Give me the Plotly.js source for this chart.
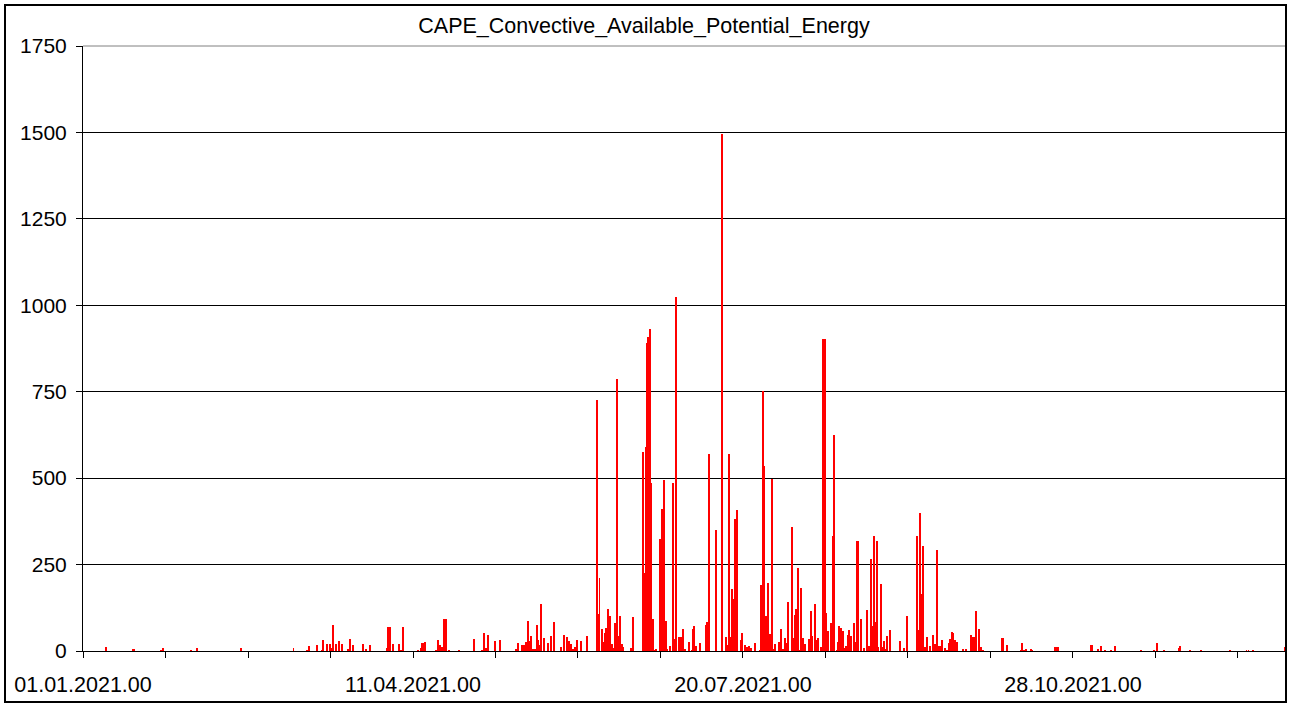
<!DOCTYPE html>
<html>
<head>
<meta charset="utf-8">
<script src="https://cdn.plot.ly/plotly-3.0.1.min.js"></script>
<style>
  html, body { margin: 0; padding: 0; background: #ffffff; }
  #chart { width: 1291px; height: 707px; }
</style>
</head>
<body>
<div id="chart"></div>
<script>
// Day offsets since 01.01.2021 00:00 (fractional days) and CAPE values (J/kg)
const dayOffset = [
  7.06, 15.0, 15.4, 23.64, 24.24, 32.73, 34.55, 47.88, 63.79,
  67.79, 68.58, 70.82, 72.33, 72.82, 73.85, 74.85, 75.36, 75.67, 76.58, 77.67, 78.39,
  80.21, 80.82, 81.73, 84.76, 85.67, 86.97, 92.03, 92.52, 92.97, 93.85, 95.67, 96.27, 96.88,
  101.61, 102.33, 102.82, 103.33, 103.73, 106.88, 107.67, 108.18, 108.70, 109.39, 109.91, 111.0,
  113.85, 118.58, 120.82, 121.61, 122.12, 122.64, 124.85, 126.27,
  131.12, 131.73, 133.03, 133.64, 134.24, 134.76, 135.24, 135.76, 136.27, 137.06, 137.48, 137.97,
  138.39, 138.79, 139.70, 140.91, 141.73, 142.64, 144.85, 145.67, 146.58, 147.36, 147.88, 148.48,
  149.09, 149.70, 150.91, 152.64,
  155.67, 156.15, 156.52, 157.18, 157.67, 158.09, 158.58, 159.09, 159.70, 160.21, 160.70, 161.21,
  161.73, 162.21, 162.73, 163.24, 163.73, 166.06, 166.58,
  169.61, 170.0, 170.52, 171.0, 171.30, 171.73, 172.12, 172.64, 173.03, 173.64,
  174.76, 175.15, 175.55, 176.06, 176.58, 176.97, 177.88, 178.79, 179.18, 179.70,
  180.61, 181.21, 181.73, 182.52, 183.64, 184.45, 184.85, 185.24, 185.76, 186.97,
  188.79, 189.18, 189.70, 191.82, 193.64, 194.85, 195.24, 195.76, 196.15, 196.67, 197.06, 197.58, 198.09,
  199.39, 199.70, 200.52, 201.12, 201.73, 202.33, 203.64,
  205.15, 205.55, 205.97, 206.52, 207.03, 207.67, 208.18, 208.73, 209.18, 209.70,
  210.91, 211.42, 212.03, 212.73, 213.03, 213.55, 214.76, 215.15, 215.76, 216.15, 216.58,
  217.06, 217.58, 218.18, 218.79, 219.91, 220.52, 221.0, 221.73, 222.21, 222.73, 223.64,
  224.33, 224.85, 225.24, 225.76, 226.67, 227.18, 227.58, 228.39, 228.79, 229.18, 229.61,
  230.21, 230.82, 231.21, 231.82, 232.21, 232.73, 233.64, 234.03, 234.39, 234.85, 235.76,
  236.67, 237.58, 238.09, 238.79, 239.18, 239.70, 240.09, 240.61, 241.0, 241.82, 242.21,
  242.73, 243.12, 243.64, 244.55, 247.58, 248.79, 249.61,
  252.64, 253.12, 253.55, 254.03, 254.45, 255.06, 255.76, 256.58, 257.48, 258.09, 258.70,
  259.18, 259.70, 260.21, 261.12, 261.73, 262.33, 262.82, 263.33, 263.73, 264.24, 264.76,
  266.58, 267.48, 269.0, 269.48, 270.0, 270.52, 271.42, 272.03, 272.64,
  278.48, 278.94, 279.91, 284.15, 284.55, 285.15, 285.67, 287.18, 287.58,
  294.55, 295.0, 295.55, 305.30, 305.76, 307.48, 308.39, 309.61, 311.42, 312.64,
  320.52, 324.45, 325.36, 327.48, 332.03, 332.52, 335.45, 338.70, 347.48,
  352.58, 353.18, 354.45, 364.3
];
const capeValues = [
  12, 6, 6, 3, 9, 3, 9, 9, 9,
  3, 14, 17, 3, 32, 20, 20, 9, 75, 20, 29, 20,
  6, 35, 17, 20, 6, 17, 9, 69, 69, 20, 20, 3, 69,
  3, 9, 23, 23, 26, 3, 32, 17, 12, 93, 93, 3,
  3, 35, 3, 52, 9, 46, 29, 32,
  6, 23, 17, 17, 26, 87, 29, 43, 6, 6, 75, 32,
  17, 136, 38, 23, 43, 84, 12, 46, 40, 29, 20, 6,
  12, 32, 29, 43,
  726, 108, 211, 64, 26, 52, 66, 121, 101, 20, 9, 81,
  787, 43, 101, 20, 12, 9, 98,
  576, 227, 591, 890, 909, 931, 487, 92, 3, 6,
  325, 235, 412, 495, 88, 6, 15, 487, 36, 1024,
  41, 41, 65, 6, 27, 3, 65, 73, 15, 24,
  76, 85, 570, 351, 1495, 41, 18, 570, 41, 178, 150, 383, 408,
  33, 53, 18, 12, 15, 9, 23,
  3, 192, 752, 535, 101, 197, 50, 498, 5, 20,
  26, 64, 5, 38, 23, 142, 359, 38, 104, 122, 240,
  3, 182, 38, 20, 35, 116, 43, 136, 32, 38, 12,
  902, 902, 110, 58, 81, 333, 625, 3, 26, 72, 67,
  58, 9, 14, 46, 61, 43, 81, 26, 318, 318, 93,
  9, 119, 14, 266, 72, 333, 84, 318, 12, 194, 12,
  29, 6, 43, 61, 29, 9, 101,
  333, 61, 399, 165, 304, 12, 40, 14, 46, 20, 292,
  14, 14, 32, 9, 3, 23, 35, 55, 52, 32, 26,
  6, 6, 46, 40, 40, 116, 64, 12, 3,
  38, 38, 17, 3, 23, 3, 6, 6, 3,
  12, 12, 12, 17, 17, 6, 14, 3, 3, 14,
  3, 3, 23, 3, 9, 14, 3, 3, 3,
  3, 3, 3, 12
];
const tickDays = [0, 25, 50, 75, 100, 125, 150, 175, 200, 225, 250, 275, 300, 325, 350];
const tickLabels = ['01.01.2021.00', '', '', '', '11.04.2021.00', '', '', '', '20.07.2021.00', '', '', '', '28.10.2021.00', '', ''];
const yTicks = [0, 250, 500, 750, 1000, 1250, 1500, 1750];

const FONT = 'Liberation Sans, Arial, sans-serif';

const trace = {
  type: 'bar',
  x: dayOffset,
  y: capeValues,
  width: 0.55,
  marker: { color: '#ff0000', line: { width: 0 } },
  hoverinfo: 'x+y'
};

const L = 83, R = 1286, T = 46, B = 651, W = 1291, H = 707;
const pw = R - L, ph = B - T;
const layout = {
  width: W, height: H,
  margin: { l: L, r: W - R, t: T, b: H - B, pad: 0 },
  paper_bgcolor: '#ffffff',
  plot_bgcolor: '#ffffff',
  showlegend: false,
  bargap: 0,
  title: {
    text: 'CAPE_Convective_Available_Potential_Energy',
    font: { family: FONT, size: 21.5, color: '#000000' },
    x: 644 / W, xref: 'container', xanchor: 'center',
    y: 1 - 25 / H, yref: 'container', yanchor: 'middle'
  },
  xaxis: {
    range: [0, 364.55],
    tickmode: 'array',
    tickvals: tickDays,
    ticktext: tickLabels,
    ticks: 'outside', ticklen: 6, tickwidth: 1, tickcolor: '#000000',
    showgrid: false, zeroline: false,
    showline: true, linecolor: '#000000', linewidth: 1,
    tickfont: { family: FONT, size: 21.5, color: '#000000' },
    ticklabelstandoff: 8,
    fixedrange: true
  },
  yaxis: {
    range: [0, 1750],
    tickmode: 'array',
    tickvals: yTicks,
    ticks: 'outside', ticklen: 6, tickwidth: 1, tickcolor: '#000000',
    showgrid: true, gridcolor: '#000000', gridwidth: 1,
    zeroline: false,
    showline: true, linecolor: '#000000', linewidth: 1,
    tickfont: { family: FONT, size: 21, color: '#000000' },
    ticklabelstandoff: 5,
    fixedrange: true
  },
  shapes: [
    { type: 'line', xref: 'paper', yref: 'paper', x0: 0, x1: 1, y0: 1, y1: 1,
      line: { color: '#808080', width: 1 } },
    { type: 'rect', xref: 'paper', yref: 'paper',
      x0: (5 - L) / pw, x1: 1, y0: (B - 702) / ph, y1: (B - 5) / ph,
      line: { color: '#000000', width: 2 }, fillcolor: 'rgba(0,0,0,0)', layer: 'above' }
  ]
};

Plotly.newPlot('chart', [trace], layout, { displayModeBar: false, staticPlot: true });
</script>
</body>
</html>
